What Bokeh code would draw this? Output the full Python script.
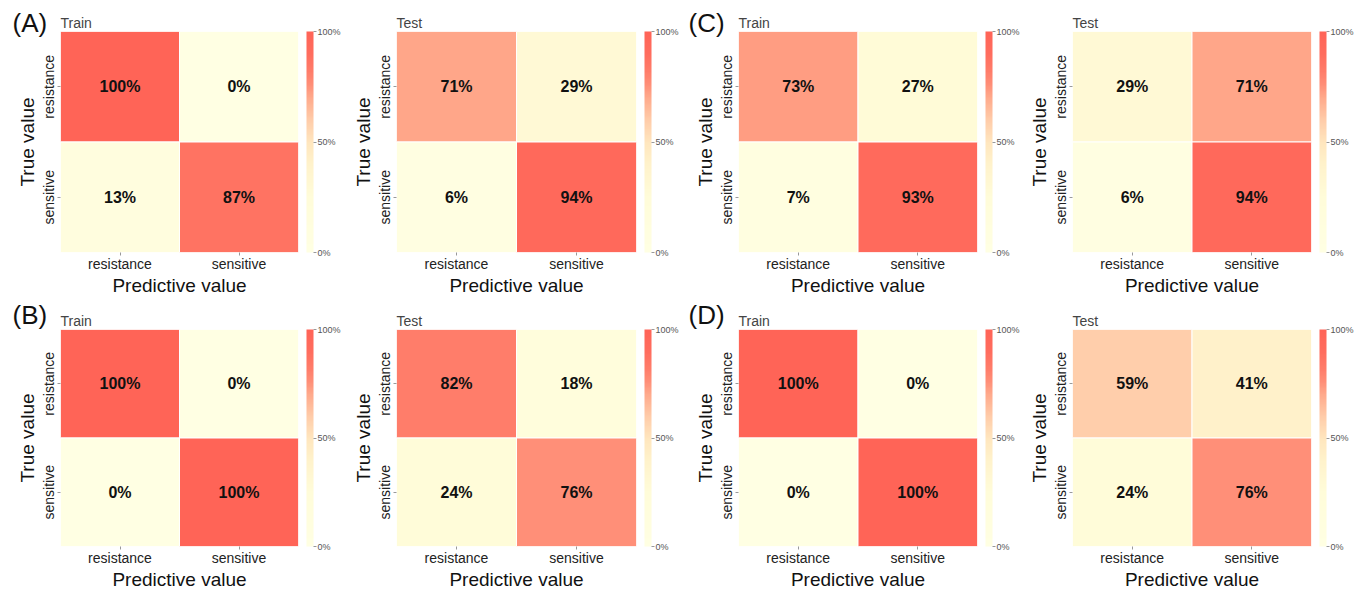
import numpy as np
from bokeh.plotting import figure
from bokeh.models import (ColumnDataSource, FactorRange, LinearColorMapper, ColorBar,
                          FixedTicker, PrintfTickFormatter, Title)
from bokeh.layouts import row, column
from bokeh.embed import file_html
from bokeh.resources import INLINE
from bokeh.core.properties import value

# ---------------- data ----------------
classes = ["resistance", "sensitive"]          # order of true (rows) and predicted (cols)
panel_letters = ["(A)", "(B)", "(C)", "(D)"]
set_titles = ["Train", "Test"]

# rows = true value (resistance, sensitive); cols = predictive value (resistance, sensitive)
A_train = [[100, 0], [13, 87]]
A_test = [[71, 29], [6, 94]]
B_train = [[100, 0], [0, 100]]
B_test = [[82, 18], [24, 76]]
C_train = [[73, 27], [7, 93]]
C_test = [[29, 71], [6, 94]]
D_train = [[100, 0], [0, 100]]
D_test = [[59, 41], [24, 76]]

colorbar_ticks = [0, 50, 100]

# ---------------- style ----------------
FONT = "Liberation Sans"
anchors = [(0.00, "#FFFFE3"), (0.25, "#FFFCD9"), (0.40, "#FFF2CB"), (0.50, "#FFE6BE"),
           (0.60, "#FFCCA9"), (0.70, "#FFAA8C"), (0.76, "#FF8F78"), (0.82, "#FF7D6A"),
           (0.90, "#FF6D5E"), (1.00, "#FF6457")]


def build_palette(n=256):
    pos = np.array([a[0] for a in anchors])
    rgb = np.array([[int(c[i:i + 2], 16) for i in (1, 3, 5)] for _, c in anchors], dtype=float)
    t = np.linspace(0, 1, n)
    out = []
    for tt in t:
        r = np.interp(tt, pos, rgb[:, 0])
        g = np.interp(tt, pos, rgb[:, 1])
        b = np.interp(tt, pos, rgb[:, 2])
        out.append("#%02x%02x%02x" % (int(round(r)), int(round(g)), int(round(b))))
    return out


palette = build_palette()

col_cfg = [  # frame width, min border left, min border right, letter offset (px left of frame)
    (238, 60, 43, 48),
    (240, 53, 40, 0),
    (239, 57, 38, 50),
    (239, 50, 40, 0),
]
row_cfg = [  # frame height, min border top, min border bottom, letter standoff
    (221, 31, 40, -48),
    (217, 31, 40, -60),
]


def make_panel(mat, title, letter, ci, ri):
    fw, bl, br, loff = col_cfg[ci]
    fh, bt, bb, lstand = row_cfg[ri]
    xs, ys, vals, txt = [], [], [], []
    for i, t in enumerate(classes):
        for j, pc in enumerate(classes):
            xs.append(pc)
            ys.append(t)
            vals.append(mat[i][j])
            txt.append(f"{mat[i][j]}%")
    src = ColumnDataSource(dict(x=xs, y=ys, v=vals, t=txt))
    mapper = LinearColorMapper(palette=palette, low=0, high=100)

    p = figure(x_range=FactorRange(*classes), y_range=FactorRange(*classes[::-1]),
               frame_width=fw, frame_height=fh,
               min_border_left=bl, min_border_right=br, min_border_top=bt, min_border_bottom=bb,
               toolbar_location=None, tools="", output_backend="svg")
    p.rect(x="x", y="y", width=1, height=1, source=src,
           fill_color={"field": "v", "transform": mapper},
           line_color="white", line_width=1)
    p.text(x="x", y="y", text="t", source=src, text_align="center", text_baseline="middle",
           text_font=value(FONT), text_font_style="bold", text_font_size="16px",
           text_color="#111111")

    p.title.text = title
    p.title.text_font = FONT
    p.title.text_font_size = "14px"
    p.title.text_font_style = "normal"
    p.title.align = "left"
    p.title.standoff = 2

    p.grid.grid_line_color = None
    p.outline_line_color = None
    for ax in (p.xaxis[0], p.yaxis[0]):
        ax.axis_line_color = None
        ax.major_tick_line_color = "#999999"
        ax.major_tick_out = 3
        ax.major_tick_in = 0
        ax.major_label_text_font = FONT
        ax.major_label_text_font_size = "14px"
        ax.major_label_text_color = "#222222"
        ax.axis_label_text_font = FONT
        ax.axis_label_text_font_size = "19px"
        ax.axis_label_text_font_style = "normal"
        ax.axis_label_text_color = "#111111"
    p.xaxis.major_label_standoff = 0
    p.xaxis.axis_label_standoff = 0
    p.yaxis.major_label_standoff = 1
    p.yaxis.axis_label_standoff = 0
    p.xaxis.axis_label = "Predictive value"
    p.yaxis.axis_label = "True value"
    p.yaxis.major_label_orientation = "vertical"

    cb = ColorBar(color_mapper=mapper, ticker=FixedTicker(ticks=colorbar_ticks),
                  formatter=PrintfTickFormatter(format="%d%%"),
                  width=7, height=fh, padding=0, margin=0, location=(8, 0),
                  major_tick_in=0, major_tick_out=3, major_tick_line_color="#999999",
                  major_label_text_font=FONT, major_label_text_font_size="9px",
                  major_label_text_color="#555555", label_standoff=1,
                  bar_line_color=None, border_line_color=None, background_fill_alpha=0)
    p.add_layout(cb, "right")

    if letter:
        # panel letter drawn as a zero-height title so that it sits beside "Train"
        p.add_layout(Title(text=letter, text_font=FONT, text_font_size="26px",
                           text_font_style="normal", text_color="#111111",
                           align="left", vertical_align="top",
                           offset=-loff, standoff=lstand), "above")
    return p


grid = [
    [(A_train, "Train", panel_letters[0]), (A_test, "Test", None),
     (C_train, "Train", panel_letters[2]), (C_test, "Test", None)],
    [(B_train, "Train", panel_letters[1]), (B_test, "Test", None),
     (D_train, "Train", panel_letters[3]), (D_test, "Test", None)],
]

rows = []
for ri, r in enumerate(grid):
    figs = [make_panel(m, t, l, ci, ri) for ci, (m, t, l) in enumerate(r)]
    rows.append(row(*figs))
layout = column(*rows)

open("out.html", "w").write(file_html(layout, INLINE))
